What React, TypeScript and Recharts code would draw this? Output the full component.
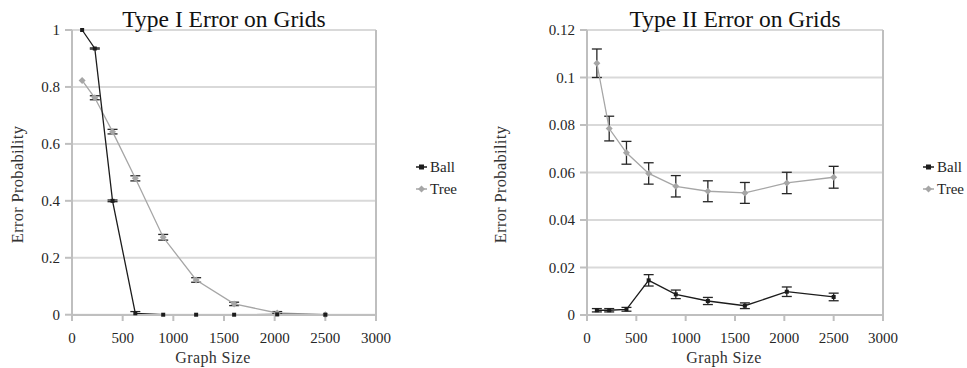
import { LineChart, Line, XAxis, YAxis, CartesianGrid, ErrorBar, ReferenceLine } from 'recharts';

const graphSizes = [100, 225, 400, 625, 900, 1225, 1600, 2025, 2500];

// Type I error
const type1Ball = [1.0, 0.935, 0.4, 0.005, 0, 0, 0, 0.001, 0];
const type1BallErr = [0, 0.002, 0.003, 0.006, 0, 0, 0, 0.002, 0];
const type1Tree = [0.823, 0.762, 0.643, 0.479, 0.272, 0.122, 0.038, 0.006, 0];
const type1TreeErr = [0, 0.007, 0.008, 0.009, 0.01, 0.008, 0.006, 0.005, 0];

// Type II error
const type2Ball = [0.002, 0.002, 0.0024, 0.0146, 0.0087, 0.0059, 0.0039, 0.0098, 0.0076];
const type2BallErr = [0.0007, 0.0007, 0.0008, 0.0024, 0.0018, 0.0015, 0.0012, 0.002, 0.0016];
const type2Tree = [0.106, 0.0785, 0.0683, 0.0596, 0.0542, 0.0521, 0.0514, 0.0556, 0.058];
const type2TreeErr = [0.006, 0.0052, 0.0048, 0.0045, 0.0045, 0.0044, 0.0044, 0.0045, 0.0046];

const xTicks = [0, 500, 1000, 1500, 2000, 2500, 3000];
const type1Ticks = [0, 0.2, 0.4, 0.6, 0.8, 1];
const type2Ticks = [0, 0.02, 0.04, 0.06, 0.08, 0.1, 0.12];

const FONT = '"Liberation Serif", "DejaVu Serif", serif';
const BALL = '#1c1c1c';
const TREE = '#a6a6a6';
const AXIS = '#bfbfbf';
const GRID = '#d9d9d9';
const ERR = '#262626';

const buildRows = (ball: number[], ballErr: number[], tree: number[], treeErr: number[]) =>
  graphSizes.map((x, i) => ({ x, ball: ball[i], ballErr: ballErr[i], tree: tree[i], treeErr: treeErr[i] }));

function SquareDot(props: any) {
  const { cx, cy } = props;
  if (cx == null || cy == null) return null;
  return <rect x={cx - 2} y={cy - 2} width={4} height={4} fill={BALL} />;
}

function DiamondDot(props: any) {
  const { cx, cy } = props;
  if (cx == null || cy == null) return null;
  return <polygon points={`${cx},${cy - 3.5} ${cx + 3.5},${cy} ${cx},${cy + 3.5} ${cx - 3.5},${cy}`} fill={TREE} />;
}

function Tick(props: any) {
  const { x, y, payload, textAnchor, orientation } = props;
  const dy = orientation === 'bottom' ? 11 : 5;
  return (
    <text x={x} y={y} dy={dy} textAnchor={textAnchor} fontFamily={FONT} fontSize={15} fill="#262626">
      {String(payload.value)}
    </text>
  );
}

interface PanelProps {
  left: number;
  width: number;
  yAxisWidth: number;
  rightMargin: number;
  title: string;
  rows: ReturnType<typeof buildRows>;
  yTicks: number[];
  yMax: number;
}

function Panel({ left, width, yAxisWidth, rightMargin, title, rows, yTicks, yMax }: PanelProps) {
  const plotLeft = left + yAxisWidth;
  const plotRight = left + width - rightMargin;
  const mid = (plotLeft + plotRight) / 2;
  return (
    <>
      <div style={{ position: 'absolute', left, top: 0, fontFamily: FONT }}>
        <LineChart width={width} height={368} data={rows} margin={{ top: 30, right: rightMargin, bottom: 23, left: 0 }}>
          <CartesianGrid vertical={false} stroke={GRID} strokeWidth={2} />
          <XAxis
            type="number"
            dataKey="x"
            domain={[0, 3000]}
            ticks={xTicks}
            height={30}
            tickSize={6}
            tickMargin={11}
            stroke={AXIS}
            strokeWidth={2}
            tick={<Tick orientation="bottom" />}
            interval={0}
          />
          <YAxis
            type="number"
            domain={[0, yMax]}
            ticks={yTicks}
            width={yAxisWidth}
            tickSize={7}
            tickMargin={5}
            stroke={AXIS}
            strokeWidth={2}
            tick={<Tick orientation="left" />}
            interval={0}
          />
          <ReferenceLine x={3000} stroke={AXIS} strokeWidth={2} />
          <Line type="linear" dataKey="tree" stroke={TREE} strokeWidth={1.3} dot={<DiamondDot />} activeDot={false} isAnimationActive={false}>
            <ErrorBar dataKey="treeErr" direction="y" width={5} stroke={ERR} strokeWidth={1.3} />
          </Line>
          <Line type="linear" dataKey="ball" stroke={BALL} strokeWidth={1.3} dot={<SquareDot />} activeDot={false} isAnimationActive={false}>
            <ErrorBar dataKey="ballErr" direction="y" width={5} stroke={ERR} strokeWidth={1.3} />
          </Line>
        </LineChart>
      </div>
      <div style={{ position: 'absolute', left: mid - 150, top: 8, width: 300, textAlign: 'center', fontFamily: FONT, fontSize: 23.5, lineHeight: '23px', color: '#111' }}>
        {title}
      </div>
      <div style={{ position: 'absolute', left: mid - 111, top: 349, width: 200, textAlign: 'center', fontFamily: FONT, fontSize: 16, lineHeight: '17px', color: '#333', letterSpacing: 0.4 }}>
        Graph Size
      </div>
      <div style={{ position: 'absolute', left: left + 17 - 100, top: 176, width: 200, height: 17, textAlign: 'center', fontFamily: FONT, fontSize: 16.5, lineHeight: '17px', color: '#333', letterSpacing: 0.3, transform: 'rotate(-90deg)', transformOrigin: '50% 50%' }}>
        Error Probability
      </div>
      <div style={{ position: 'absolute', left: plotRight + 40, top: 159, fontFamily: FONT, fontSize: 15, lineHeight: '16px', color: '#262626' }}>
        <div style={{ display: 'flex', alignItems: 'center', height: 16 }}>
          <svg width={12} height={16}>
            <line x1={0} y1={8} x2={11} y2={8} stroke={BALL} strokeWidth={1.5} />
            <rect x={3} y={5.5} width={5} height={5} fill={BALL} />
          </svg>
          <span style={{ marginLeft: 2 }}>Ball</span>
        </div>
        <div style={{ display: 'flex', alignItems: 'center', height: 16, marginTop: 6 }}>
          <svg width={12} height={16}>
            <line x1={0} y1={8} x2={11} y2={8} stroke={TREE} strokeWidth={1.5} />
            <polygon points="5.5,4.5 9,8 5.5,11.5 2,8" fill={TREE} />
          </svg>
          <span style={{ marginLeft: 2 }}>Tree</span>
        </div>
      </div>
    </>
  );
}

export default function App() {
  const rows1 = buildRows(type1Ball, type1BallErr, type1Tree, type1TreeErr);
  const rows2 = buildRows(type2Ball, type2BallErr, type2Tree, type2TreeErr);
  return (
    <div style={{ position: 'absolute', left: 0, top: 0, width: 967, height: 368, background: '#fff', overflow: 'hidden' }}>
      <Panel left={0} width={483} yAxisWidth={72} rightMargin={107} title="Type I Error on Grids" rows={rows1} yTicks={type1Ticks} yMax={1} />
      <Panel left={483} width={484} yAxisWidth={104} rightMargin={84} title="Type II Error on Grids" rows={rows2} yTicks={type2Ticks} yMax={0.12} />
    </div>
  );
}
